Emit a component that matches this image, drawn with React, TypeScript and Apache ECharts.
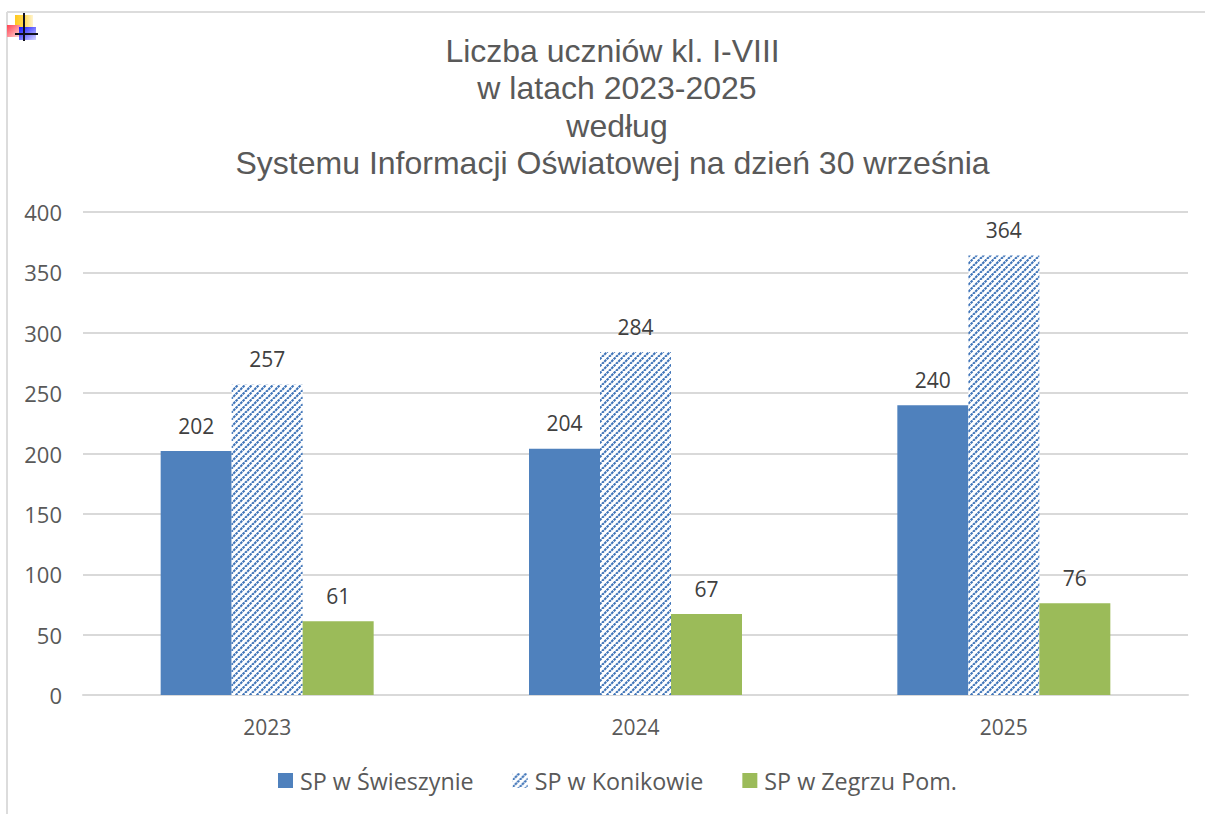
import React, { useEffect, useRef } from "react";
import * as echarts from "echarts";

const titleLines = [
  "Liczba uczniów kl. I-VIII ",
  "w latach 2023-2025",
  "według",
  "Systemu Informacji Oświatowej na dzień 30 września ",
];
const years = ["2023", "2024", "2025"];
const swieszyn = [202, 204, 240];
const konikowo = [257, 284, 364];
const zegrze = [61, 67, 76];
const seriesNames = ["SP w Świeszynie", "SP w Konikowie", "SP w Zegrzu Pom."];

function hatch(): HTMLCanvasElement {
  const c = document.createElement("canvas");
  c.width = 7;
  c.height = 7;
  const g = c.getContext("2d")!;
  g.fillStyle = "#ffffff";
  g.fillRect(0, 0, 7, 7);
  g.strokeStyle = "#3f74b8";
  g.lineWidth = 2.1;
  g.setLineDash([2.6, 0.7]);
  for (const o of [-7, 0, 7]) {
    g.beginPath();
    g.moveTo(o, 7);
    g.lineTo(o + 7, 0);
    g.stroke();
  }
  return c;
}

export default function App() {
  const ref = useRef<HTMLDivElement>(null);
  useEffect(() => {
    document.body.style.margin = "0";
    const chart = echarts.init(ref.current!, undefined, { renderer: "svg" });
    const pattern = { image: hatch(), repeat: "repeat" } as any;
    const labelStyle = {
      show: true,
      position: "top" as const,
      distance: 15,
      fontFamily: "Open Sans",
      fontSize: 21,
      color: "#404040",
    };
    chart.setOption({
      animation: false,
      backgroundColor: "#ffffff",
      title: {
        text: titleLines.join("\n"),
        left: 612,
        top: 27,
        textAlign: "center",
        textStyle: {
          fontFamily: "Liberation Sans",
          fontSize: 32,
          fontWeight: "normal",
          color: "#595959",
          lineHeight: 37.4,
        },
      },
      grid: { left: 83, right: 17, top: 212, bottom: 119, containLabel: false },
      legend: {
        left: 273,
        top: 764,
        itemWidth: 15,
        itemHeight: 15,
        itemGap: 39,
        icon: "rect",
        textStyle: { fontFamily: "Open Sans", fontSize: 23.3, color: "#595959", padding: [0, 0, 0, 2] },
        data: seriesNames,
      },
      xAxis: {
        type: "category",
        data: years,
        axisTick: { show: false },
        axisLine: { lineStyle: { color: "#d9d9d9", width: 2 } },
        axisLabel: { fontFamily: "Open Sans", fontSize: 21, color: "#595959", margin: 21 },
      },
      yAxis: {
        type: "value",
        min: 0,
        max: 400,
        interval: 50,
        axisLine: { show: false },
        axisTick: { show: false },
        splitLine: { lineStyle: { color: "#d9d9d9", width: 2 } },
        axisLabel: { fontFamily: "Open Sans", fontSize: 22, color: "#595959", margin: 21 },
      },
      series: [
        { name: seriesNames[0], type: "bar", data: swieszyn, barWidth: 71, barGap: "0%", itemStyle: { color: "#4f81bd" }, label: labelStyle },
        { name: seriesNames[1], type: "bar", data: konikowo, barWidth: 71, itemStyle: { color: pattern }, label: labelStyle },
        { name: seriesNames[2], type: "bar", data: zegrze, barWidth: 71, itemStyle: { color: "#9bbb59" }, label: labelStyle },
      ],
      graphic: [
        { type: "line", shape: { x1: 7, y1: 12, x2: 1205, y2: 12 }, style: { stroke: "#dcdcdc", lineWidth: 2 } },
        { type: "line", shape: { x1: 7, y1: 12, x2: 7, y2: 814 }, style: { stroke: "#dcdcdc", lineWidth: 2 } },
        { type: "rect", shape: { x: 15, y: 15, width: 18, height: 12 }, style: { fill: { type: "linear", x: 0, y: 0, x2: 1, y2: 0, colorStops: [{ offset: 0, color: "#ffc81e" }, { offset: 0.5, color: "#ffd850" }, { offset: 1, color: "#fff4d0" }] } } },
        { type: "rect", shape: { x: 7, y: 25, width: 13, height: 12 }, style: { fill: { type: "linear", x: 0, y: 0, x2: 1, y2: 1, colorStops: [{ offset: 0, color: "#ff4050" }, { offset: 1, color: "#ffd8d8" }] } } },
        { type: "rect", shape: { x: 19, y: 27, width: 17, height: 13 }, style: { fill: { type: "linear", x: 0, y: 0, x2: 1, y2: 1, colorStops: [{ offset: 0, color: "#1010ff" }, { offset: 1, color: "#d8d8ff" }] } } },
        { type: "line", shape: { x1: 24, y1: 13, x2: 24, y2: 41 }, style: { stroke: "#101020", lineWidth: 2 } },
        { type: "line", shape: { x1: 15, y1: 34, x2: 38, y2: 34 }, style: { stroke: "#101020", lineWidth: 2 } },
      ],
    });
    return () => chart.dispose();
  }, []);
  return <div ref={ref} style={{ width: 1205, height: 814 }} />;
}
